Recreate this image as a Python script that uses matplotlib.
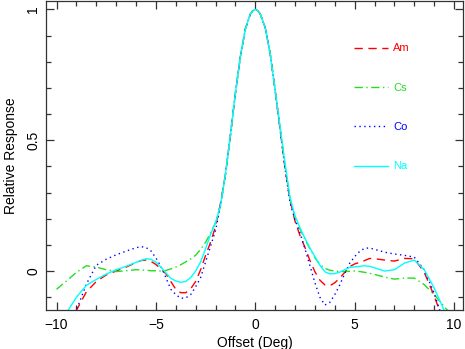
import matplotlib
matplotlib.use("Agg")
import matplotlib.pyplot as plt
from matplotlib.ticker import MultipleLocator

plt.rcParams['font.family'] = ['Liberation Sans', 'DejaVu Sans']

# offsets (deg) shared by all four sources
offset = [-10, -9.5, -9, -8.5, -8, -7.5, -7, -6.5,
          -6, -5.75, -5.5, -5.25, -5, -4.75, -4.5, -4.25, -4, -3.75, -3.5, -3.25, -3, -2.75, -2.5, -2.25,
          -2, -1.75, -1.5, -1.25, -1, -0.75, -0.5, -0.25, -0.125, 0,
          0.125, 0.25, 0.5, 0.75, 1, 1.25, 1.5, 1.75, 2,
          2.25, 2.5, 2.75, 3, 3.25, 3.5, 3.75, 4, 4.25, 4.5, 4.75, 5, 5.25, 5.5, 5.75, 6,
          6.5, 7, 7.5, 8, 8.5, 9, 9.5, 10]

am = [-0.33, -0.235, -0.15, -0.08, -0.04, -0.015, 0.0, 0.015,
      0.032, 0.04, 0.042, 0.037, 0.025, 0.008, -0.01, -0.04, -0.07, -0.083, -0.083, -0.068, -0.04, 0.005, 0.06, 0.11,
      0.17, 0.26, 0.37, 0.52, 0.68, 0.82, 0.925, 0.982, 0.995, 1.0,
      0.995, 0.982, 0.93, 0.83, 0.69, 0.54, 0.39, 0.27, 0.19,
      0.135, 0.09, 0.04, -0.003, -0.035, -0.053, -0.056, -0.045, -0.027, -0.005, 0.017, 0.027, 0.033, 0.04, 0.048, 0.047,
      0.042, 0.038, 0.048, 0.047, -0.005, -0.095, -0.2, -0.31]

cs = [-0.07, -0.038, -0.005, 0.02, 0.015, 0.005, -0.002, 0.001,
      0.005, 0.004, 0.003, 0.001, 0.001, 0.0, 0.002, 0.008, 0.015, 0.024, 0.035, 0.046, 0.06, 0.083, 0.11, 0.145,
      0.185, 0.25, 0.37, 0.52, 0.68, 0.82, 0.925, 0.982, 0.995, 1.0,
      0.995, 0.982, 0.93, 0.83, 0.69, 0.545, 0.4, 0.275, 0.205,
      0.16, 0.12, 0.085, 0.05, 0.025, 0.01, 0.003, 0.0, -0.002, -0.002, -0.001, 0.0, -0.002, -0.005, -0.009, -0.013,
      -0.023, -0.031, -0.027, -0.027, -0.052, -0.09, -0.135, -0.18]

co = [-0.36, -0.26, -0.15, -0.05, 0.022, 0.045, 0.062, 0.076,
      0.089, 0.093, 0.09, 0.077, 0.05, 0.018, -0.025, -0.07, -0.09, -0.104, -0.103, -0.09, -0.06, -0.025, 0.035, 0.095,
      0.155, 0.25, 0.37, 0.52, 0.68, 0.82, 0.925, 0.982, 0.995, 1.0,
      0.995, 0.982, 0.93, 0.83, 0.69, 0.54, 0.39, 0.26, 0.195,
      0.145, 0.085, 0.02, -0.045, -0.1, -0.13, -0.12, -0.09, -0.053, -0.01, 0.03, 0.055, 0.075, 0.087, 0.088, 0.083,
      0.072, 0.065, 0.06, 0.053, 0.005, -0.085, -0.2, -0.31]

na = [-0.24, -0.16, -0.1, -0.055, -0.032, -0.012, 0.005, 0.018,
      0.033, 0.04, 0.047, 0.045, 0.034, 0.015, -0.007, -0.028, -0.038, -0.043, -0.04, -0.025, 0.0, 0.035, 0.085, 0.14,
      0.185, 0.25, 0.37, 0.52, 0.68, 0.82, 0.925, 0.982, 0.995, 1.0,
      0.995, 0.982, 0.93, 0.83, 0.69, 0.55, 0.41, 0.28, 0.21,
      0.165, 0.125, 0.088, 0.055, 0.022, -0.003, -0.011, -0.01, -0.004, 0.005, 0.014, 0.016, 0.018, 0.02, 0.018, 0.012,
      0.0, 0.005, 0.03, 0.042, 0.005, -0.065, -0.15, -0.24]

fig = plt.figure(figsize=(4.65, 3.49), dpi=100)
ax = fig.add_axes([46/465, 1 - 310/349, (463 - 46)/465, (310 - 1)/349])

ax.plot(offset, am, color='red', ls=(0, (6, 4)), lw=1.0, label='Am')
ax.plot(offset, cs, color='#22dd22', ls=(0, (6, 2.5, 1, 2.5)), lw=1.0, label='Cs')
ax.plot(offset, co, color='blue', ls=(0, (1, 2.5)), lw=1.0, label='Co')
ax.plot(offset, na, color='cyan', ls='-', lw=1.0, label='Na')

ax.set_xlim(-10.53, 10.45)
ax.set_ylim(-0.149, 1.032)

ax.xaxis.set_major_locator(MultipleLocator(5))
ax.xaxis.set_minor_locator(MultipleLocator(1))
ax.yaxis.set_major_locator(MultipleLocator(0.5))
ax.yaxis.set_minor_locator(MultipleLocator(0.1))
ax.tick_params(which='both', direction='in', top=True, right=True, color='#333333', width=0.9)
ax.tick_params(which='major', length=6, labelsize=10, pad=6)
ax.tick_params(which='minor', length=3.5)
ax.tick_params(axis='y', which='major', pad=4)
ax.set_xticks([-10, -5, 0, 5, 10])
ax.set_xticklabels(['\u221210', '\u22125', '0', '5', '10'])
ax.set_yticks([0, 0.5, 1])
ax.set_yticklabels(['0', '0.5', '1'], rotation=90, va='center')
for s in ax.spines.values():
    s.set_color('#333333')
    s.set_linewidth(0.9)

ax.set_xlabel('Offset (Deg)', fontsize=10, labelpad=3)
ax.set_ylabel('Relative Response', fontsize=10, labelpad=6)

leg = ax.legend(loc='upper left', bbox_to_anchor=(0.715, 0.895), frameon=False,
                fontsize=8, handlelength=3.06, handletextpad=0.45,
                labelspacing=2.64, labelcolor='linecolor')

fig.savefig('out.png', dpi=100)
